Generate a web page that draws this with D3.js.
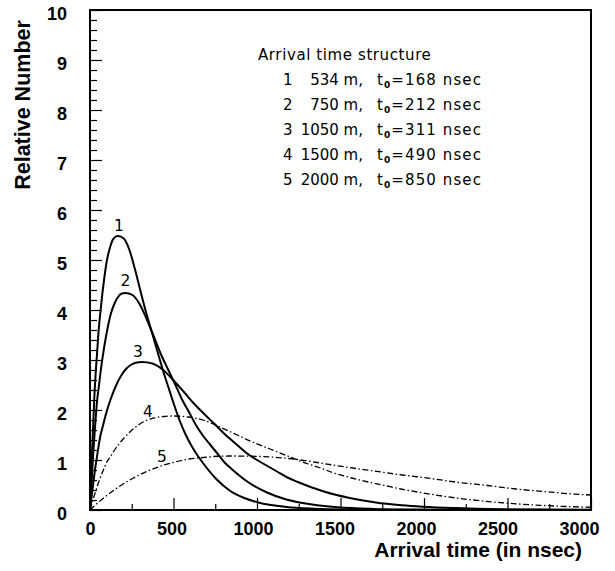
<!DOCTYPE html>
<html><head><meta charset="utf-8">
<script src="https://cdn.jsdelivr.net/npm/d3@7/dist/d3.min.js"></script>
<style>
html,body{margin:0;padding:0;background:#fff;}
svg{display:block;}
</style></head>
<body>
<svg id="chart" width="615" height="571"></svg>
<script>
// ---------------- data ----------------
const curveIds   = ["1", "2", "3", "4", "5"];
const distances  = [534, 750, 1050, 1500, 2000];   // m
const t0Values   = [168, 212, 311, 490, 850];      // nsec
const legendTitle = "Arrival time structure";
const xTickMajor = [0, 500, 1000, 1500, 2000, 2500, 3000];
const xTickMinor = [250, 750, 1250, 1750, 2250, 2750];
const yTickMajor = [0, 1, 2, 3, 4, 5, 6, 7, 8, 9, 10];
const xTitle = "Arrival time (in nsec)";
const yTitle = "Relative Number";

const t1 = [0, 8, 17, 25, 34, 42, 50, 67, 84, 101, 118, 134, 151, 168, 202, 235, 269, 302, 336, 370, 403, 437, 470, 504, 538, 571, 605, 638, 672, 756, 840, 924, 1008, 1176, 1344, 1512, 1800, 2200, 2600, 3000];
const v1 = [0, 0.82, 1.53, 2.19, 2.74, 3.12, 3.51, 4.11, 4.60, 4.99, 5.23, 5.39, 5.46, 5.48, 5.43, 5.21, 4.82, 4.38, 3.95, 3.56, 3.18, 2.79, 2.45, 2.10, 1.78, 1.52, 1.30, 1.12, 0.96, 0.62, 0.38, 0.24, 0.15, 0.06, 0.025, 0.01, 0.003, 0.001, 0, 0];

const t2 = [0, 11, 21, 32, 42, 53, 64, 85, 106, 127, 148, 170, 191, 212, 254, 297, 339, 382, 424, 466, 509, 551, 594, 636, 678, 721, 763, 806, 848, 954, 1060, 1166, 1272, 1484, 1696, 1908, 2120, 2500, 3000];
const v2 = [0, 0.65, 1.22, 1.74, 2.17, 2.47, 2.78, 3.26, 3.65, 3.95, 4.14, 4.27, 4.33, 4.34, 4.30, 4.12, 3.82, 3.47, 3.12, 2.82, 2.52, 2.21, 1.95, 1.69, 1.48, 1.30, 1.13, 0.95, 0.82, 0.54, 0.35, 0.22, 0.14, 0.056, 0.022, 0.01, 0.004, 0.001, 0];

const t3 = [0, 16, 31, 47, 62, 78, 93, 124, 156, 187, 218, 249, 280, 311, 373, 435, 498, 560, 622, 684, 746, 809, 871, 933, 995, 1057, 1120, 1182, 1244, 1400, 1555, 1711, 1866, 2177, 2488, 3000];
const v3 = [0, 0.44, 0.83, 1.18, 1.48, 1.69, 1.89, 2.22, 2.49, 2.69, 2.83, 2.91, 2.95, 2.96, 2.93, 2.81, 2.60, 2.37, 2.13, 1.92, 1.72, 1.51, 1.33, 1.15, 1.01, 0.89, 0.77, 0.65, 0.56, 0.37, 0.24, 0.15, 0.095, 0.038, 0.015, 0.004];

const t4 = [0, 25, 49, 74, 98, 123, 147, 196, 245, 294, 343, 392, 441, 490, 588, 686, 784, 882, 980, 1078, 1176, 1274, 1372, 1470, 1568, 1666, 1764, 1862, 1960, 2205, 2450, 2695, 2940, 3000];
const v4 = [0, 0.28, 0.53, 0.75, 0.94, 1.07, 1.20, 1.41, 1.58, 1.71, 1.80, 1.85, 1.87, 1.88, 1.86, 1.79, 1.65, 1.50, 1.35, 1.22, 1.09, 0.96, 0.85, 0.73, 0.64, 0.56, 0.49, 0.42, 0.36, 0.235, 0.15, 0.094, 0.06, 0.055];

const t5 = [0, 43, 85, 128, 170, 213, 255, 340, 425, 510, 595, 680, 765, 850, 1020, 1190, 1360, 1530, 1700, 1870, 2040, 2210, 2380, 2550, 2720, 2890, 3000];
const v5 = [0, 0.13, 0.25, 0.36, 0.46, 0.55, 0.63, 0.77, 0.88, 0.96, 1.02, 1.05, 1.075, 1.08, 1.07, 1.03, 0.95, 0.86, 0.78, 0.70, 0.63, 0.55, 0.49, 0.42, 0.37, 0.32, 0.30];

const seriesT = [t1, t2, t3, t4, t5];
const seriesV = [v1, v2, v3, v4, v5];

// ---------------- layout / style ----------------
const W = 615, H = 571;
const L = 90, R = 591, T = 10, B = 510;
const svg = d3.select("#chart");

const x = d3.scaleLinear().domain([0, 3000]).range([L, R]);
const y = d3.scaleLinear().domain([0, 10]).range([B, T]);
// tick labels in the original drift slightly left of the tick marks
const xLab = d3.scaleLinear().domain([0, 3000]).range([L, 579]);

const tickFont = "'Liberation Sans', Arial, sans-serif";

// minor and major ticks on x (inside)
svg.append("g").attr("transform", `translate(0,${B})`)
  .call(d3.axisBottom(x).tickValues(xTickMinor).tickSize(-6).tickFormat(""))
  .call(g => g.select(".domain").remove())
  .call(g => g.selectAll("line").attr("stroke", "#000").attr("stroke-width", 1.2));
svg.append("g").attr("transform", `translate(0,${B})`)
  .call(d3.axisBottom(x).tickValues(xTickMajor).tickSize(-12).tickFormat(""))
  .call(g => g.select(".domain").remove())
  .call(g => g.selectAll("line").attr("stroke", "#000").attr("stroke-width", 1.2));

// x tick labels
svg.append("g").attr("transform", `translate(0,${B})`)
  .call(d3.axisBottom(xLab).tickValues(xTickMajor).tickSize(0).tickPadding(0).tickFormat(d3.format("d")))
  .call(g => g.select(".domain").remove())
  .call(g => g.selectAll("text").attr("dy", null).attr("y", 25)
      .attr("font-family", tickFont).attr("font-weight", "bold").attr("font-size", 18).attr("fill", "#000"));

// y ticks (inside)
const yMinor = d3.range(0, 10.001, 0.2).map(v => +v.toFixed(1)).filter(v => Math.abs(v - Math.round(v)) > 1e-6);
svg.append("g").attr("transform", `translate(${L},0)`)
  .call(d3.axisLeft(y).tickValues(yMinor).tickSize(-7).tickFormat(""))
  .call(g => g.select(".domain").remove())
  .call(g => g.selectAll("line").attr("stroke", "#000").attr("stroke-width", 1.2));
svg.append("g").attr("transform", `translate(${L},0)`)
  .call(d3.axisLeft(y).tickValues(yTickMajor).tickSize(-12).tickFormat(""))
  .call(g => g.select(".domain").remove())
  .call(g => g.selectAll("line").attr("stroke", "#000").attr("stroke-width", 1.2));
// y tick labels
svg.append("g").attr("transform", `translate(${L},0)`)
  .call(d3.axisLeft(y).tickValues(yTickMajor).tickSize(0).tickPadding(23).tickFormat(d3.format("d")))
  .call(g => g.select(".domain").remove())
  .call(g => g.selectAll("text").attr("dy", "0.52em")
      .attr("font-family", tickFont).attr("font-weight", "bold").attr("font-size", 18).attr("fill", "#000"));

// curves
const line = d3.line().x(d => x(d[0])).y(d => y(d[1])).curve(d3.curveMonotoneX);
const styles = [
  {w: 2, dash: null}, {w: 2, dash: null}, {w: 2, dash: null},
  {w: 1.3, dash: "6,2.5,1.5,2.5"}, {w: 1.3, dash: "6,2.5,1.5,2.5"}
];
svg.append("defs").append("clipPath").attr("id", "clip")
  .append("rect").attr("x", L).attr("y", T).attr("width", R - L).attr("height", B - T);
const gC = svg.append("g").attr("clip-path", "url(#clip)");
seriesT.forEach((ts, i) => {
  const pts = ts.map((t, j) => [t, seriesV[i][j]]);
  gC.append("path").datum(pts).attr("d", line)
    .attr("fill", "none").attr("stroke", "#000")
    .attr("stroke-width", styles[i].w)
    .attr("stroke-dasharray", styles[i].dash)
    .attr("stroke-linejoin", "round");
});

// curve number labels (pixel offsets from each curve's peak)
const labelOffsets = [[1, -11], [0, -12.5], [-4, -11], [-24, -5], [-70, 0]];
const legendFont = "'DejaVu Sans', sans-serif";
curveIds.forEach((id, i) => {
  const vs = seriesV[i];
  const k = vs.indexOf(d3.max(vs));
  svg.append("text")
    .attr("x", x(seriesT[i][k]) + labelOffsets[i][0])
    .attr("y", y(vs[k]) + labelOffsets[i][1])
    .attr("dy", "0.36em")
    .attr("text-anchor", "middle")
    .attr("font-family", legendFont).attr("font-size", 15.5).attr("fill", "#000")
    .text(id);
});

// frame
svg.append("rect").attr("x", L).attr("y", T).attr("width", R - L).attr("height", B - T)
  .attr("fill", "none").attr("stroke", "#000").attr("stroke-width", 2);

// legend
const lg = svg.append("g").attr("font-family", legendFont).attr("font-size", 15).attr("fill", "#000");
lg.append("text").attr("x", 258).attr("y", 60).attr("letter-spacing", 0.6).text(legendTitle);
curveIds.forEach((id, i) => {
  const by = 85 + i * 24.9;
  lg.append("text").attr("x", 283).attr("y", by).text(id);
  lg.append("text").attr("x", 363).attr("y", by).attr("text-anchor", "end").text(distances[i] + " m,");
  const tt = lg.append("text").attr("x", 377).attr("y", by).attr("letter-spacing", 1.1);
  tt.append("tspan").text("t");
  tt.append("tspan").attr("font-size", 9).attr("font-weight", "bold").attr("dy", 3).text("0");
  tt.append("tspan").attr("dy", -3).text("=" + t0Values[i] + " nsec");
});

// axis titles
svg.append("text").attr("x", 582).attr("y", 557).attr("text-anchor", "end")
  .attr("font-family", tickFont).attr("font-weight", "bold").attr("font-size", 21).attr("fill", "#000")
  .text(xTitle);
svg.append("text").attr("transform", "translate(30,105) rotate(-90)").attr("text-anchor", "middle")
  .attr("font-family", tickFont).attr("font-weight", "bold").attr("font-size", 21.5).attr("fill", "#000")
  .text(yTitle);
</script>
</body></html>
